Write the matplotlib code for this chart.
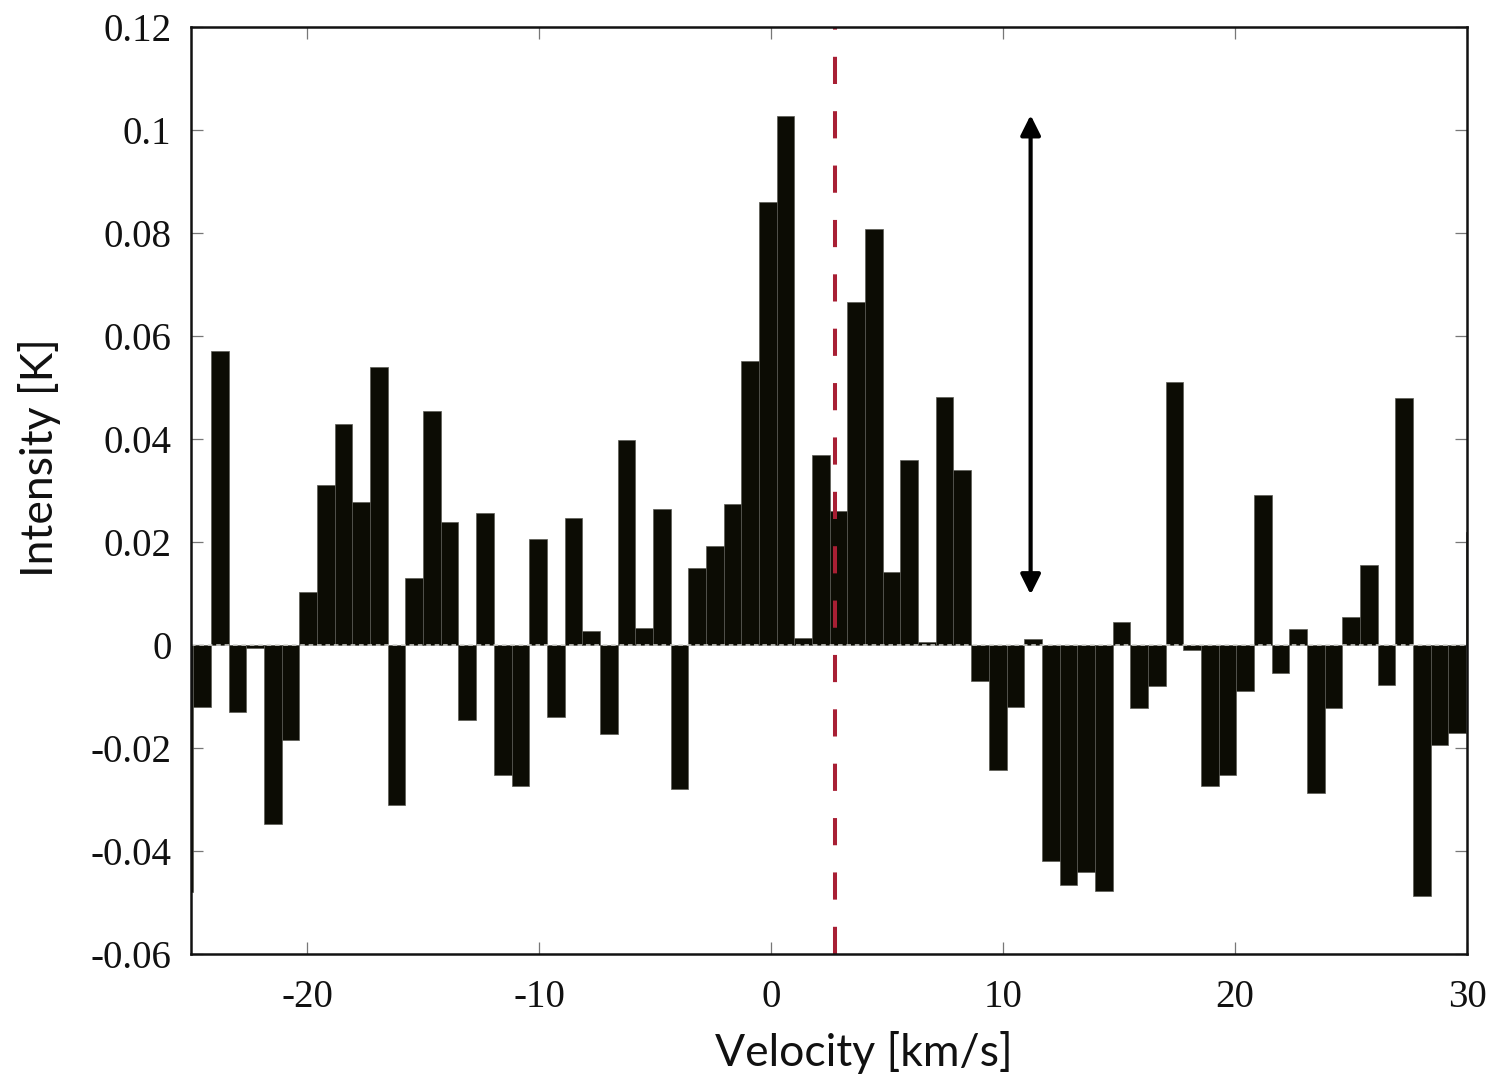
import matplotlib
matplotlib.use("Agg")
import matplotlib.pyplot as plt
import numpy as np

# channel grid of the spectrum (km/s)
chan_width = 0.762
first_edge = -24.90
# intensity per channel [K], left to right
intensity = [
    -0.048, -0.012, 0.057, -0.013, -0.0005, -0.0348, -0.0184, 0.0102,
    0.0311, 0.0430, 0.0277, 0.0539, -0.0311, 0.0131, 0.0455, 0.0239,
    -0.0146, 0.0256, -0.0252, -0.0274, 0.0206, -0.0139, 0.0246, 0.0027,
    -0.0173, 0.0398, 0.0033, 0.0265, -0.0279, 0.0150, 0.0192, 0.0273,
    0.0551, 0.0860, 0.1027, 0.0014, 0.0369, 0.0260, 0.0666, 0.0808,
    0.0142, 0.0359, 0.0006, 0.0482, 0.0340, -0.0070, -0.0243, -0.0120,
    0.0012, -0.0420, -0.0466, -0.0440, -0.0478, 0.0045, -0.0122, -0.0080,
    0.0510, -0.0010, -0.0274, -0.0252, -0.0089, 0.0291, -0.0054, 0.0031,
    -0.0287, -0.0122, 0.0054, 0.0155, -0.0077, 0.0480, -0.0487, -0.0194,
    -0.0171, 0.0220,
]
velocity = first_edge - chan_width + chan_width * np.arange(len(intensity))

v_sys = 2.76          # red dashed line
arrow_x = 11.19       # double arrow
arrow_y = (0.0098, 0.1029)

plt.rcParams['axes.unicode_minus'] = False

fig = plt.figure(figsize=(14.95, 10.76), dpi=100)
ax = fig.add_axes([191/1495, 1-954/1076, 1276/1495, 927/1076])

ax.bar(velocity, intensity, width=chan_width, align='edge',
       color='#0c0c04', edgecolor='#5a5a54', linewidth=0.5, zorder=2)
ax.axhline(0, color='#d4d4d0', lw=1.1, ls=(0, (3, 2.5)), zorder=3)
ax.axvline(v_sys, color='#a81f34', lw=2.9, ls=(0, (6.75, 6.75)), zorder=4)
ax.annotate('', xy=(arrow_x, arrow_y[1]), xytext=(arrow_x, arrow_y[0]),
            arrowprops=dict(arrowstyle='<|-|>', lw=3, color='black',
                            mutation_scale=30, shrinkA=0, shrinkB=0),
            zorder=5)

ax.set_xlim(-25, 30)
ax.set_ylim(-0.06, 0.12)
ax.set_xticks([-20, -10, 0, 10, 20, 30])
ax.set_yticks([-0.06, -0.04, -0.02, 0, 0.02, 0.04, 0.06, 0.08, 0.1, 0.12])
ax.set_yticklabels(['-0.06', '-0.04', '-0.02', '0', '0.02', '0.04',
                    '0.06', '0.08', '0.1', '0.12'])

for s in ax.spines.values():
    s.set_linewidth(1.8)
    s.set_color('#111111')
    s.set_zorder(6)

ax.tick_params(direction='in', top=True, right=True, length=8.6,
               width=0.9, color='#777777', labelcolor='#111111')
ax.tick_params(axis='x', pad=18)
ax.tick_params(axis='y', pad=14)
for lab in ax.get_xticklabels() + ax.get_yticklabels():
    lab.set_fontfamily('Liberation Serif')
    lab.set_fontsize(28)

ax.set_xlabel('Velocity [km/s]', fontfamily='Lato', fontsize=32, color='#111111')
ax.set_ylabel('Intensity [K]', fontfamily='Lato', fontsize=32, color='#111111')
ax.xaxis.set_label_coords(0.527, -0.083)
ax.yaxis.set_label_coords(-0.102, 0.536)

fig.savefig('out.png', dpi=100)
